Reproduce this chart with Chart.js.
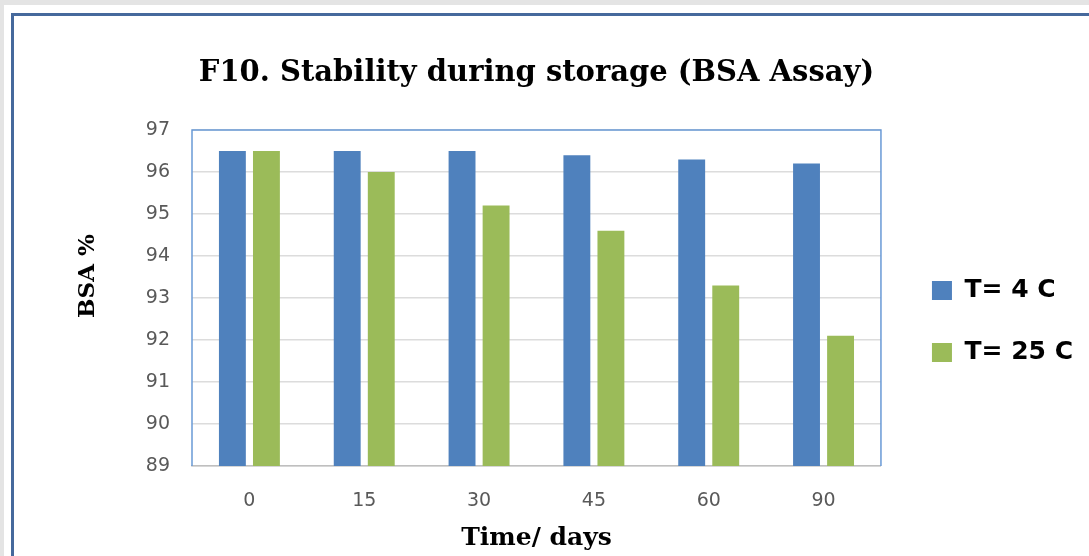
<!DOCTYPE html>
<html>
<head>
<meta charset="utf-8">
<title>F10. Stability during storage (BSA Assay)</title>
<script src="https://cdn.jsdelivr.net/npm/chart.js@4"></script>
<style>
  html, body { margin: 0; padding: 0; width: 1089px; height: 556px; overflow: hidden; background: #e4e4e4; }
  #sheet { position: absolute; left: 4px; top: 5px; width: 1085px; height: 551px; background: #ffffff; }
  #frame { position: absolute; left: 11px; top: 13px; width: 1100px; height: 560px; box-sizing: border-box;
           border-left: 3px solid #46699c; border-top: 3px solid #46699c; }
  #chart { position: absolute; left: 0; top: 0; }
</style>
</head>
<body>
<div id="sheet"></div>
<div id="frame"></div>
<canvas id="chart" width="1089" height="556"></canvas>
<script>
// Storage time points (days)
const days = ['0', '15', '30', '45', '60', '90'];
// BSA assay results (%) at each storage temperature
const bsaAt4C = [96.5, 96.5, 96.5, 96.4, 96.3, 96.2];
const bsaAt25C = [96.5, 96.0, 95.2, 94.6, 93.3, 92.1];
const seriesNames = ['T= 4 C', 'T= 25 C'];
const yMin = 89, yMax = 97, yStep = 1;

const chartTitle = 'F10. Stability during storage (BSA Assay)';
const xAxisTitle = 'Time/ days';
const yAxisTitle = 'BSA %';

const BLUE = '#4f81bd';
const GREEN = '#9bbb59';
const TICK_FONT = { family: 'DejaVu Sans', size: 19 };
const SERIF_BOLD = 'DejaVu Serif';

// Thin blue frame on the left, top and right of the plot area
const plotFrame = {
  id: 'plotFrame',
  beforeDatasetsDraw(chart) {
    const { ctx, chartArea: a } = chart;
    ctx.save();
    ctx.strokeStyle = '#6a9ad6';
    ctx.lineWidth = 1.5;
    ctx.beginPath();
    ctx.moveTo(a.left, a.bottom);
    ctx.lineTo(a.left, a.top);
    ctx.lineTo(a.right, a.top);
    ctx.lineTo(a.right, a.bottom);
    ctx.stroke();
    ctx.restore();
  }
};

// Vertical axis caption
const yCaption = {
  id: 'yCaption',
  afterDraw(chart) {
    const { ctx } = chart;
    ctx.save();
    ctx.translate(88, 276);
    ctx.rotate(-Math.PI / 2);
    ctx.font = 'bold 23px "' + SERIF_BOLD + '"';
    ctx.fillStyle = '#000';
    ctx.textAlign = 'center';
    ctx.textBaseline = 'middle';
    ctx.fillText(yAxisTitle, 0, 0);
    ctx.restore();
  }
};

// Place the legend block beside the lower half of the plot
const legendPlacement = {
  id: 'legendPlacement',
  afterLayout(chart) {
    const lg = chart.legend;
    if (!lg) return;
    const dx = 14, dy = 43.5;
    lg.left += dx; lg.right += dx;
    lg.top += dy; lg.bottom += dy;
  }
};

new Chart(document.getElementById('chart'), {
  type: 'bar',
  data: {
    labels: days,
    datasets: [
      { label: seriesNames[0], data: bsaAt4C, backgroundColor: BLUE, borderWidth: 0 },
      { label: seriesNames[1], data: bsaAt25C, backgroundColor: GREEN, borderWidth: 0 }
    ]
  },
  options: {
    responsive: false,
    animation: false,
    devicePixelRatio: 1,
    datasets: { bar: { barPercentage: 0.79, categoryPercentage: 0.593 } },
    layout: { padding: { left: 0, top: 0, bottom: 0, right: 20 } },
    scales: {
      x: {
        grid: { display: false, drawTicks: false },
        border: { display: true, color: '#bfbfbf', width: 1.5 },
        ticks: { color: '#595959', font: TICK_FONT, padding: 24 },
        title: {
          display: true, text: xAxisTitle, color: '#000',
          font: { family: SERIF_BOLD, size: 25, weight: 'bold' },
          padding: { top: 0, bottom: 3 }
        },
        afterFit(scale) { scale.height = 90; }
      },
      y: {
        min: yMin, max: yMax,
        grid: { color: '#dcdcdc', lineWidth: 1.5, drawTicks: false },
        border: { display: false },
        ticks: { stepSize: yStep, color: '#595959', font: TICK_FONT, padding: 22 },
        afterFit(scale) { scale.width = 192; }
      }
    },
    plugins: {
      title: {
        display: true, text: chartTitle, color: '#000', fullSize: false,
        font: { family: SERIF_BOLD, size: 29, weight: 'bold' },
        padding: { top: 55.6, bottom: 39.6 }
      },
      legend: {
        position: 'right',
        align: 'center',
        labels: {
          color: '#000',
          font: { family: 'DejaVu Sans', size: 25, weight: 'bold' },
          boxWidth: 20, boxHeight: 19, padding: 37
        }
      },
      tooltip: { enabled: false }
    }
  },
  plugins: [plotFrame, yCaption, legendPlacement]
});
</script>
</body>
</html>
